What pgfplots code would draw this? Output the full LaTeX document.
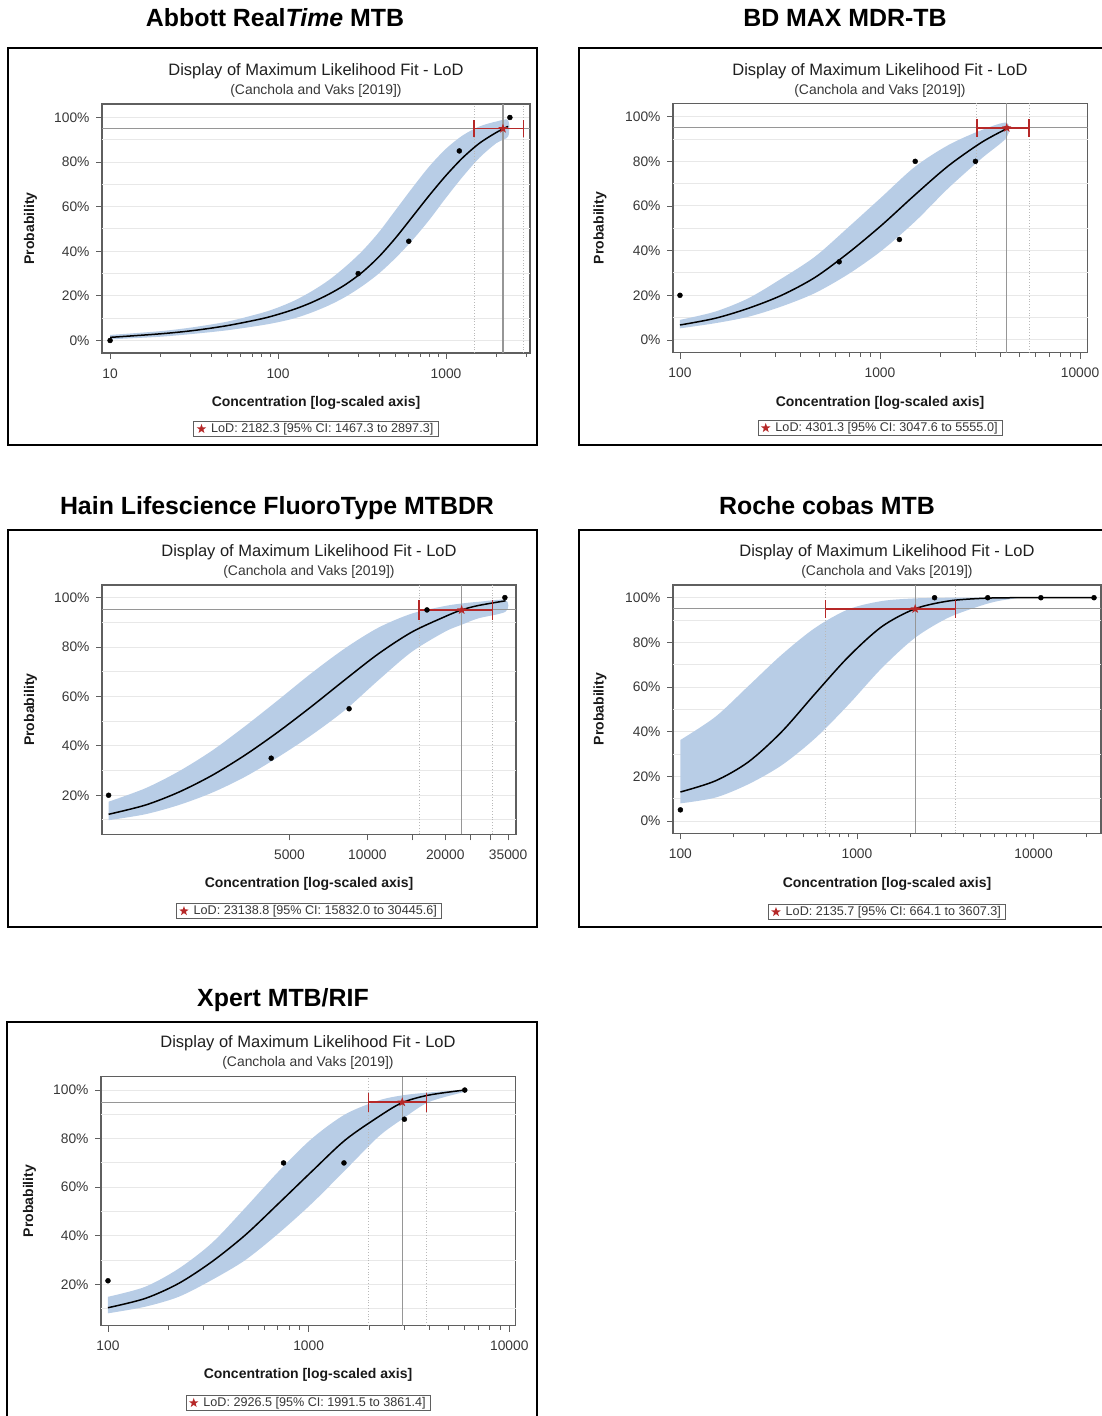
\documentclass[border=0pt]{standalone}
\usepackage{pgfplots}
\pgfplotsset{compat=1.18}
\usepackage{fontspec}
\setmainfont{Liberation Sans}
\definecolor{bandblue}{RGB}{184,205,230}
\definecolor{lodred}{RGB}{182,40,40}
\definecolor{framegray}{RGB}{95,95,95}
\definecolor{gridgray}{RGB}{232,232,232}
\definecolor{refgray}{RGB}{150,150,150}
\definecolor{cigray}{RGB}{185,185,185}
\definecolor{labgray}{RGB}{55,55,55}

\pgfdeclareplotmark{fstar}{%
 \pgfpathmoveto{\pgfpointpolar{90}{\pgfplotmarksize}}%
 \pgfpathlineto{\pgfpointpolar{126}{0.4\pgfplotmarksize}}%
 \pgfpathlineto{\pgfpointpolar{162}{\pgfplotmarksize}}%
 \pgfpathlineto{\pgfpointpolar{198}{0.4\pgfplotmarksize}}%
 \pgfpathlineto{\pgfpointpolar{234}{\pgfplotmarksize}}%
 \pgfpathlineto{\pgfpointpolar{270}{0.4\pgfplotmarksize}}%
 \pgfpathlineto{\pgfpointpolar{306}{\pgfplotmarksize}}%
 \pgfpathlineto{\pgfpointpolar{342}{0.4\pgfplotmarksize}}%
 \pgfpathlineto{\pgfpointpolar{18}{\pgfplotmarksize}}%
 \pgfpathlineto{\pgfpointpolar{54}{0.4\pgfplotmarksize}}%
 \pgfpathclose\pgfusepathqfill}

\pgfplotsset{
 lodaxis/.style={
  scale only axis,
  axis line style={framegray, line width=1.1pt},
  tick align=outside, tick pos=left,
  major tick length=6pt, minor tick length=4pt,
  tick style={framegray, line width=0.9pt},
  tick label style={font=\fontsize{13.8}{15}\selectfont, text=labgray},
  xticklabel style={yshift=-6pt},
  yticklabel style={xshift=-3pt},
  ymajorgrids, major grid style={gridgray, line width=1pt},
  extra y ticks={0.1,0.3,0.5,0.7,0.9}, extra y tick labels={},
  extra y tick style={major tick length=0pt},
  legend image code/.code={\draw[##1] plot coordinates {(0pt,0pt)};},
  legend style={anchor=center, draw=framegray, line width=0.8pt,
    font=\fontsize{12.6}{14}\selectfont, text=labgray, inner xsep=3pt, inner ysep=0pt,
    /tikz/every odd column/.append style={column sep=3pt}},
  legend cell align=left,
 },
 refline/.style={refgray, line width=1.1pt, forget plot},
 ciline/.style={cigray, line width=0.8pt, dotted, forget plot},
 redline/.style={lodred, line width=1.6pt, forget plot},
 fitline/.style={black, line width=1.5pt, forget plot},
 bandfill/.style={fill=bandblue, draw=none, forget plot},
 blackdots/.style={only marks, mark=*, mark size=2.5pt, black, forget plot},
 lodstar/.style={only marks, mark=fstar, mark size=5pt, lodred},
}

\begin{document}
\begin{tikzpicture}[x=1pt,y=1pt]
\useasboundingbox (0,0) rectangle (1101,1416);

\tikzset{ttl/.style={font=\bfseries\fontsize{24.9}{28}\selectfont, anchor=base, inner sep=0pt},
 dsp/.style={font=\fontsize{16.5}{18}\selectfont, anchor=base, inner sep=0pt, text=black!88},
 sub/.style={font=\fontsize{13.9}{15}\selectfont, anchor=base, inner sep=0pt, text=labgray},
 xl/.style={font=\bfseries\fontsize{14}{16}\selectfont, anchor=base, inner sep=0pt, text=black!90},
 yl/.style={font=\bfseries\fontsize{14}{16}\selectfont, anchor=base, inner sep=0pt, rotate=90, text=black!90}}

\draw[black, line width=1.5pt] (8,1416-48) rectangle (537,1416-445);
\draw[black, line width=1.5pt] (579,1416-48) rectangle (1106,1416-445);
\draw[black, line width=1.5pt] (8,1416-530) rectangle (537,1416-927);
\draw[black, line width=1.5pt] (579,1416-530) rectangle (1106,1416-927);
\draw[black, line width=1.5pt] (7,1416-1022) rectangle (537,1416-1422);

\node[ttl] at (275,1416-26.7) {Abbott Real\textit{Time} MTB};
\node[ttl] at (845,1416-26.7) {BD MAX MDR-TB};
\node[ttl] at (277,1416-514.5) {Hain Lifescience FluoroType MTBDR};
\node[ttl] at (827,1416-514.5) {Roche cobas MTB};
\node[ttl] at (283,1416-1006.5) {Xpert MTB/RIF};

\foreach \cx/\by in {316/76, 880/76, 309/557, 887/557, 308/1048}{
  \node[dsp] at (\cx,1416-\by) {Display of Maximum Likelihood Fit - LoD};
  \node[sub] at (\cx,1416-\by-19) {(Canchola and Vaks [2019])};
  \node[xl] at (\cx,1416-\by-331) {Concentration [log-scaled axis]};
}
\node[yl] at (34,1416-228.5) {Probability};
\node[yl] at (603.5,1416-228) {Probability};
\node[yl] at (34,1416-709.7) {Probability};
\node[yl] at (603.5,1416-709) {Probability};
\node[yl] at (33,1416-1201) {Probability};

% ---------------- Panel 1: Abbott ----------------
\begin{axis}[xmode=log, lodaxis, at={(102pt,1063pt)}, anchor=south west, width=428pt, height=249pt,
  xmin=8.954, xmax=3162, ymin=-0.056, ymax=1.0605,
  xtick={10,100,1000}, xticklabels={10,100,1000},
  minor xtick={20,30,40,50,60,70,80,90,200,300,400,500,600,700,800,900,2000,3000},
  ytick={0,0.2,0.4,0.6,0.8,1}, yticklabels={0\%,20\%,40\%,60\%,80\%,100\%},
  legend style={at={(0.5,-0.305)}}]
\addplot[bandfill, smooth] coordinates {(10,0.025) (20,0.042) (31.6,0.060) (50.1,0.085) (79.4,0.123) (100,0.148) (126,0.18) (158,0.22) (200,0.27) (251,0.33) (316,0.40) (398,0.485) (501,0.585) (631,0.685) (794,0.78) (1000,0.86) (1259,0.92) (1585,0.96) (1995,0.982) (2344,0.988)
 (2344,0.915) (1995,0.885) (1585,0.82) (1259,0.735) (1000,0.64) (794,0.54) (631,0.45) (501,0.37) (398,0.30) (316,0.243) (251,0.195) (200,0.157) (158,0.125) (126,0.10) (100,0.082) (79.4,0.068) (50.1,0.046) (31.6,0.03) (20,0.017) (10,0.005)};
\addplot[refline] coordinates {(8.954,0.95) (3162,0.95)};
\addplot[refline] coordinates {(2182.3,-0.056) (2182.3,1.06)};
\addplot[ciline] coordinates {(1467.3,-0.056) (1467.3,1.06)};
\addplot[ciline] coordinates {(2897.3,-0.056) (2897.3,1.06)};
\addplot[fitline, smooth] coordinates {(10,0.014) (20,0.03) (31.6,0.045) (50.1,0.067) (79.4,0.097) (100,0.117) (126,0.141) (158,0.170) (200,0.207) (251,0.25) (316,0.305) (398,0.375) (501,0.46) (631,0.555) (794,0.65) (1000,0.74) (1259,0.82) (1585,0.885) (1995,0.933) (2344,0.96)};
\addplot[blackdots] coordinates {(10,0) (300,0.30) (600,0.445) (1200,0.85) (2400,1.0)};
\addplot[redline] coordinates {(1467.3,0.95) (2897.3,0.95)};
\addplot[redline] coordinates {(1467.3,0.911) (1467.3,0.989)};
\addplot[redline] coordinates {(2897.3,0.911) (2897.3,0.989)};
\addplot[lodstar] coordinates {(2182.3,0.95)};
\addlegendentry{LoD: 2182.3 [95\% CI: 1467.3 to 2897.3]}
\end{axis}

% ---------------- Panel 2: BD MAX ----------------
\begin{axis}[xmode=log, lodaxis, at={(673pt,1063.3pt)}, anchor=south west, width=414.5pt, height=249.4pt,
  xmin=92.3, xmax=10901, ymin=-0.057, ymax=1.06,
  xtick={100,1000,10000}, xticklabels={100,1000,10000},
  minor xtick={200,300,400,500,600,700,800,900,2000,3000,4000,5000,6000,7000,8000,9000},
  ytick={0,0.2,0.4,0.6,0.8,1}, yticklabels={0\%,20\%,40\%,60\%,80\%,100\%},
  legend style={at={(0.5,-0.302)}}]
\addplot[bandfill, smooth] coordinates {(100,0.09) (150,0.127) (220,0.187) (322,0.275) (473,0.373) (695,0.505) (1019,0.64) (1496,0.776) (2198,0.873) (3221,0.94) (4296,0.973)
 (4296,0.907) (3221,0.813) (2198,0.68) (1496,0.53) (1019,0.40) (695,0.295) (473,0.21) (322,0.15) (220,0.104) (150,0.075) (100,0.052)};
\addplot[refline] coordinates {(92.3,0.95) (10900,0.95)};
\addplot[refline] coordinates {(4301.3,-0.057) (4301.3,1.06)};
\addplot[ciline] coordinates {(3047.6,-0.057) (3047.6,1.06)};
\addplot[ciline] coordinates {(5555.0,-0.057) (5555.0,1.06)};
\addplot[fitline, smooth] coordinates {(100,0.067) (150,0.097) (220,0.142) (322,0.20) (473,0.28) (695,0.39) (1019,0.514) (1496,0.65) (2198,0.78) (3221,0.885) (4296,0.946)};
\addplot[blackdots] coordinates {(100,0.20) (625,0.35) (1250,0.45) (1500,0.80) (3000,0.80)};
\addplot[redline] coordinates {(3047.6,0.95) (5555.0,0.95)};
\addplot[redline] coordinates {(3047.6,0.911) (3047.6,0.989)};
\addplot[redline] coordinates {(5555.0,0.911) (5555.0,0.989)};
\addplot[lodstar] coordinates {(4301.3,0.95)};
\addlegendentry{LoD: 4301.3 [95\% CI: 3047.6 to 5555.0]}
\end{axis}

% ---------------- Panel 3: Hain ----------------
\begin{axis}[xmode=log, lodaxis, at={(102pt,581.7pt)}, anchor=south west, width=414pt, height=249.3pt,
  xmin=943, xmax=37540, ymin=0.042, ymax=1.051,
  xtick={5000,10000,15000,20000,25000,30000,35000}, xticklabels={5000,10000,,20000,,,35000},
  ytick={0.2,0.4,0.6,0.8,1}, yticklabels={20\%,40\%,60\%,80\%,100\%},
  legend style={at={(0.5,-0.308)}}]
\addplot[bandfill, smooth] coordinates {(1000,0.174) (1385,0.228) (1862,0.296) (2506,0.38) (3373,0.48) (4529,0.586) (6095,0.695) (8204,0.795) (11015,0.878) (14825,0.935) (19953,0.966) (23121,0.976) (26853,0.983) (34198,0.99)
 (34198,0.943) (26853,0.916) (23121,0.89) (19953,0.862) (14825,0.78) (11015,0.665) (8204,0.545) (6095,0.444) (4529,0.355) (3373,0.275) (2506,0.21) (1862,0.16) (1385,0.123) (1000,0.099)};
\addplot[refline] coordinates {(943,0.95) (37500,0.95)};
\addplot[refline] coordinates {(23138.8,0.042) (23138.8,1.051)};
\addplot[ciline] coordinates {(15832.0,0.042) (15832.0,1.051)};
\addplot[ciline] coordinates {(30445.6,0.042) (30445.6,1.051)};
\addplot[fitline, smooth] coordinates {(1000,0.123) (1385,0.16) (1862,0.212) (2506,0.28) (3373,0.363) (4529,0.457) (6095,0.56) (8204,0.668) (11015,0.772) (14825,0.86) (19953,0.923) (23121,0.95) (26853,0.968) (34198,0.987)};
\addplot[blackdots] coordinates {(1000,0.20) (4250,0.35) (8500,0.55) (17000,0.95) (34000,1.0)};
\addplot[redline] coordinates {(15832.0,0.95) (30445.6,0.95)};
\addplot[redline] coordinates {(15832.0,0.911) (15832.0,0.989)};
\addplot[redline] coordinates {(30445.6,0.911) (30445.6,0.989)};
\addplot[lodstar] coordinates {(23138.8,0.95)};
\addlegendentry{LoD: 23138.8 [95\% CI: 15832.0 to 30445.6]}
\end{axis}

% ---------------- Panel 4: Roche ----------------
\begin{axis}[xmode=log, lodaxis, at={(673pt,582.7pt)}, anchor=south west, width=428pt, height=248.3pt,
  xmin=90.8, xmax=24100, ymin=-0.055, ymax=1.057,
  xtick={100,1000,10000}, xticklabels={100,1000,10000},
  minor xtick={200,300,400,500,600,700,800,900,2000,3000,4000,5000,6000,7000,8000,9000,20000},
  ytick={0,0.2,0.4,0.6,0.8,1}, yticklabels={0\%,20\%,40\%,60\%,80\%,100\%},
  legend style={at={(0.5,-0.317)}}]
\addplot[bandfill, smooth] coordinates {(100,0.363) (158,0.467) (243,0.605) (375,0.745) (579,0.865) (893,0.948) (1379,0.985) (2127,0.997) (3281,1.0) (5062,1.0) (7811,1.0)
 (7811,0.997) (6288,0.985) (5062,0.965) (3281,0.91) (2127,0.82) (1379,0.684) (893,0.52) (579,0.37) (375,0.25) (243,0.165) (158,0.105) (100,0.079)};
\addplot[refline] coordinates {(90.8,0.95) (24050,0.95)};
\addplot[refline] coordinates {(2135.7,-0.055) (2135.7,1.057)};
\addplot[ciline] coordinates {(664.1,-0.055) (664.1,1.057)};
\addplot[ciline] coordinates {(3607.3,-0.055) (3607.3,1.057)};
\addplot[fitline, smooth] coordinates {(100,0.13) (158,0.18) (243,0.265) (375,0.40) (579,0.57) (893,0.735) (1379,0.87) (2127,0.95) (3281,0.985) (5062,0.997) (7811,1.0) (22000,1.0)};
\addplot[blackdots] coordinates {(100,0.05) (2750,1.0) (5500,1.0) (11000,1.0) (22000,1.0)};
\addplot[redline] coordinates {(664.1,0.95) (3607.3,0.95)};
\addplot[redline] coordinates {(664.1,0.911) (664.1,0.989)};
\addplot[redline] coordinates {(3607.3,0.911) (3607.3,0.989)};
\addplot[lodstar] coordinates {(2135.7,0.95)};
\addlegendentry{LoD: 2135.7 [95\% CI: 664.1 to 3607.3]}
\end{axis}

% ---------------- Panel 5: Xpert ----------------
\begin{axis}[xmode=log, lodaxis, at={(101pt,90.3pt)}, anchor=south west, width=414.5pt, height=249pt,
  xmin=92.3, xmax=10740, ymin=0.030, ymax=1.055,
  xtick={100,1000,10000}, xticklabels={100,1000,10000},
  minor xtick={200,300,400,500,600,700,800,900,2000,3000,4000,5000,6000,7000,8000,9000},
  ytick={0.2,0.4,0.6,0.8,1}, yticklabels={20\%,40\%,60\%,80\%,100\%},
  legend style={at={(0.5,-0.31)}}]
\addplot[bandfill, smooth] coordinates {(100,0.149) (153,0.19) (225,0.265) (329,0.37) (483,0.515) (708,0.665) (1037,0.80) (1520,0.90) (2228,0.957) (2925,0.978) (3956,0.99) (5977,1.0)
 (5977,0.993) (3956,0.95) (2925,0.88) (2228,0.808) (1520,0.67) (1037,0.533) (708,0.41) (483,0.30) (329,0.218) (225,0.149) (153,0.108) (100,0.081)};
\addplot[refline] coordinates {(92.3,0.95) (10740,0.95)};
\addplot[refline] coordinates {(2926.5,0.03) (2926.5,1.055)};
\addplot[ciline] coordinates {(1991.5,0.03) (1991.5,1.055)};
\addplot[ciline] coordinates {(3861.4,0.03) (3861.4,1.055)};
\addplot[fitline, smooth] coordinates {(100,0.104) (153,0.142) (225,0.204) (329,0.293) (483,0.403) (708,0.533) (1037,0.665) (1520,0.794) (2228,0.89) (2925,0.948) (3956,0.979) (5977,1.0)};
\addplot[blackdots] coordinates {(100,0.215) (750,0.70) (1500,0.70) (3000,0.88) (6000,1.0)};
\addplot[redline] coordinates {(1991.5,0.95) (3861.4,0.95)};
\addplot[redline] coordinates {(1991.5,0.911) (1991.5,0.989)};
\addplot[redline] coordinates {(3861.4,0.911) (3861.4,0.989)};
\addplot[lodstar] coordinates {(2926.5,0.95)};
\addlegendentry{LoD: 2926.5 [95\% CI: 1991.5 to 3861.4]}
\end{axis}
\end{tikzpicture}
\end{document}
